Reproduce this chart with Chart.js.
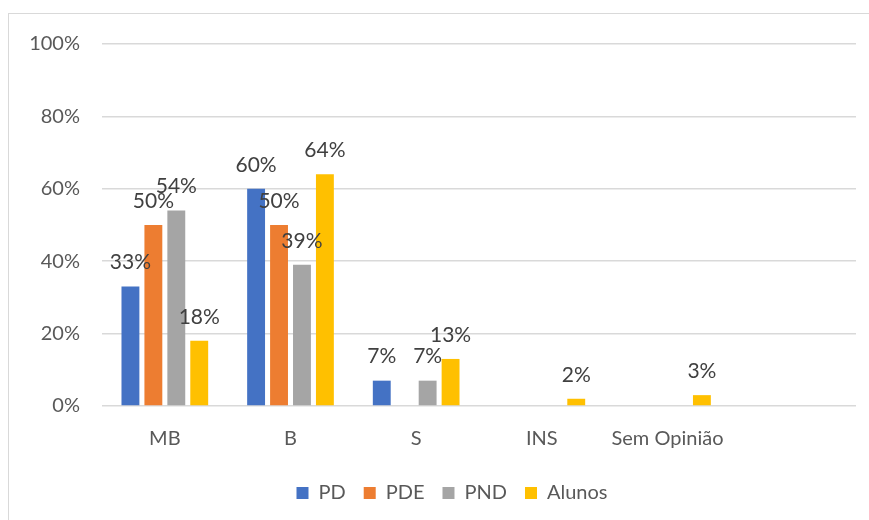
<!DOCTYPE html>
<html>
<head>
<meta charset="utf-8">
<script src="https://cdn.jsdelivr.net/npm/chart.js@4/dist/chart.umd.min.js"></script>
<style>
  html, body { margin: 0; padding: 0; background: #fff; overflow: hidden; }
  #wrap { position: relative; width: 869px; height: 520px; }
  #frame {
    position: absolute; left: 8px; top: 13px; width: 870px; height: 520px;
    border: 1.5px solid #D9D9D9; box-sizing: border-box; pointer-events: none;
  }
</style>
</head>
<body>
<div id="wrap">
  <canvas id="chart" width="869" height="520"></canvas>
  <div id="frame"></div>
</div>
<script>
// Categories (the last one is empty in the original chart)
const categories = ['MB', 'B', 'S', 'INS', 'Sem Opinião', ''];

// Series values, in percent (null = no bar / no label)
const pd     = [33, 60, 7, null, null, null];
const pde    = [50, 50, null, null, null, null];
const pnd    = [54, 39, 7, null, null, null];
const alunos = [18, 64, 13, 2, 3, null];

// Y axis ticks
const yTicks = [0, 20, 40, 60, 80, 100];

const FONT = "Lato, 'Open Sans', sans-serif";

// Simple inline plugin: value labels above each bar
const valueLabels = {
    id: 'valueLabels',
    afterDatasetsDraw(chart) {
        const ctx = chart.ctx;
        ctx.save();
        ctx.font = "21px " + FONT;
        ctx.fillStyle = '#404040';
        ctx.textAlign = 'center';
        ctx.textBaseline = 'middle';
        chart.data.datasets.forEach((ds, i) => {
            chart.getDatasetMeta(i).data.forEach((bar, j) => {
                const v = ds.data[j];
                if (v === null || v === undefined) return;
                ctx.fillText(v + '%', bar.x, bar.y - 24);
            });
        });
        ctx.restore();
    }
};

// The original legend sits a bit right of the plot centre
const legendShift = {
    id: 'legendShift',
    afterLayout(chart) {
        if (!chart.legend) return;
        chart.legend.left += 24;
        chart.legend.right += 24;
    }
};

const config = {
    type: 'bar',
    data: {
        labels: categories,
        datasets: [
            { label: 'PD',     data: pd,     backgroundColor: '#4472C4' },
            { label: 'PDE',    data: pde,    backgroundColor: '#ED7D31' },
            { label: 'PND',    data: pnd,    backgroundColor: '#A5A5A5' },
            { label: 'Alunos', data: alunos, backgroundColor: '#FFC000' }
        ]
    },
    options: {
        responsive: false,
        animation: false,
        categoryPercentage: 0.73,
        barPercentage: 0.78,
        layout: {
            padding: { top: 44, right: 13, left: 0, bottom: 7 }
        },
        plugins: {
            legend: {
                position: 'bottom',
                labels: {
                    color: '#595959',
                    font: { family: FONT, size: 20 },
                    boxWidth: 12,
                    boxHeight: 12,
                    padding: 18
                }
            },
            tooltip: { enabled: false }
        },
        scales: {
            x: {
                grid: { display: false, drawTicks: false },
                border: { display: false },
                ticks: {
                    color: '#595959',
                    padding: 21,
                    maxRotation: 0,
                    autoSkip: false,
                    font: { family: FONT, size: 20 }
                },
                afterFit: (scale) => { scale.height = 59; }
            },
            y: {
                min: 0,
                max: 100,
                afterBuildTicks: (scale) => { scale.ticks = yTicks.map(v => ({ value: v })); },
                grid: { color: '#D9D9D9', lineWidth: 1.5, drawTicks: false },
                border: { display: false },
                ticks: {
                    color: '#595959',
                    padding: 22,
                    font: { family: FONT, size: 20 },
                    callback: (value) => value + '%'
                },
                afterFit: (scale) => { scale.width = 102; }
            }
        }
    },
    plugins: [valueLabels, legendShift]
};

new Chart(document.getElementById('chart'), config);
</script>
</body>
</html>
